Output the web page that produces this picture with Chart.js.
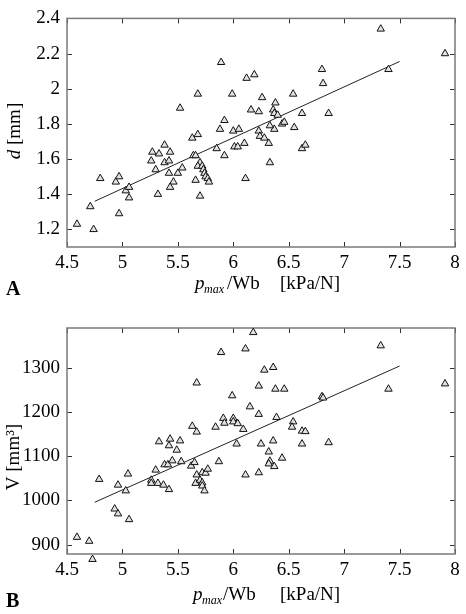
<!DOCTYPE html>
<html>
<head>
<meta charset="utf-8">
<script src="https://cdn.jsdelivr.net/npm/chart.js@4"></script>
<style>
  html, body { margin: 0; padding: 0; background: #fff; }
  #wrap { position: relative; width: 466px; height: 614px; }
  .box { position: absolute; left: 0; width: 466px; height: 307px; }
</style>
</head>
<body>
<div id="wrap">
  <div class="box" style="top:0"><canvas id="chartA" width="466" height="307"></canvas></div>
  <div class="box" style="top:307px"><canvas id="chartB" width="466" height="307"></canvas></div>
</div>
<script>
// 目盛り
const xTicks = [4.5, 5, 5.5, 6, 6.5, 7, 7.5, 8];
const dTicks = [1.2, 1.4, 1.6, 1.8, 2, 2.2, 2.4];
const vTicks = [900, 1000, 1100, 1200, 1300];

// A: pmax/Wb と d
const pmaxA = [7.33, 7.91, 7.40, 6.80, 6.81, 5.89, 6.12, 6.19, 5.68, 5.99,
  6.26, 6.54, 6.38, 5.52, 6.16, 6.23, 6.36, 6.37, 6.40, 6.62,
  6.86, 5.92, 5.88, 6.00, 6.05, 6.23, 6.37, 6.33, 6.44, 6.46,
  6.55, 6.24, 6.28, 6.32, 6.10, 6.01, 6.04, 5.85, 5.63, 5.68,
  6.62, 6.65, 5.92, 5.64, 5.66, 5.38, 5.27, 5.33, 5.43, 5.26,
  5.30, 5.38, 5.42, 5.42, 5.50, 5.54, 5.46, 5.43, 5.32, 5.70,
  5.68, 5.72, 5.73, 5.74, 5.75, 5.77, 5.78, 5.66, 5.70, 6.11,
  6.33, 4.80, 4.94, 4.97, 5.03, 5.06, 5.06, 4.97, 4.71, 4.59, 4.74];
const dValues = [2.34, 2.20, 2.11, 2.11, 2.03, 2.15, 2.06, 2.08, 1.97, 1.97,
  1.95, 1.97, 1.92, 1.89, 1.88, 1.87, 1.88, 1.86, 1.85, 1.86,
  1.86, 1.82, 1.77, 1.76, 1.77, 1.76, 1.77, 1.79, 1.80, 1.81,
  1.78, 1.73, 1.72, 1.69, 1.69, 1.67, 1.67, 1.66, 1.72, 1.74,
  1.66, 1.68, 1.62, 1.62, 1.62, 1.68, 1.64, 1.63, 1.64, 1.59,
  1.54, 1.58, 1.59, 1.52, 1.52, 1.55, 1.47, 1.44, 1.40, 1.58,
  1.56, 1.56, 1.54, 1.52, 1.50, 1.49, 1.47, 1.48, 1.39, 1.49,
  1.58, 1.49, 1.47, 1.50, 1.42, 1.44, 1.38, 1.29, 1.33, 1.23, 1.20];

// B: pmax/Wb と V
const pmaxB = [6.18, 5.89, 6.11, 7.33, 7.91, 7.40, 5.67, 6.28, 6.36, 6.23,
  6.38, 6.46, 5.99, 6.15, 6.80, 6.81, 6.23, 6.39, 5.91, 5.92,
  6.00, 6.00, 6.04, 6.09, 6.54, 6.53, 6.62, 6.65, 5.84, 5.63,
  5.67, 5.33, 5.43, 5.52, 5.42, 5.49, 6.03, 6.25, 6.36, 6.62,
  6.86, 6.32, 6.44,
  4.79, 4.96, 5.05, 5.03, 5.30, 5.26, 5.26, 5.32, 5.37, 5.42,
  5.38, 5.41, 5.45, 5.53, 5.62, 5.65, 5.67, 5.66, 5.70, 5.72,
  5.72, 5.75, 5.77, 5.72, 5.74, 5.87, 6.11, 6.23, 6.33, 6.32,
  6.37, 4.93, 4.96, 5.06, 4.59, 4.70, 4.73];
const vValues = [1380, 1335, 1343, 1350, 1264, 1252, 1266, 1295, 1301, 1259,
  1252, 1252, 1237, 1212, 1235, 1232, 1195, 1188, 1186, 1175,
  1186, 1178, 1174, 1161, 1178, 1166, 1157, 1156, 1166, 1168,
  1155, 1133, 1139, 1135, 1124, 1114, 1128, 1128, 1135, 1128,
  1131, 1110, 1096,
  1048, 1035, 1060, 1022, 1069, 1046, 1039, 1039, 1035, 1025,
  1081, 1081, 1090, 1088, 1078, 1086, 1058, 1039, 1046, 1040,
  1063, 1062, 1071, 1033, 1022, 1088, 1058, 1063, 1089, 1083,
  1077, 981, 970, 957, 917, 908, 867];

// 回帰直線
const fitX = [4.75, 7.5];
const fitD = [1.36, 2.155];
const fitV = [996, 1304];

const SERIF = '"Liberation Serif", "DejaVu Serif", serif';

function pts(xs, ys) {
  return xs.map((x, i) => ({ x: x, y: ys[i] }));
}

// 枠と内向きの目盛り線、軸タイトル
function makeDecor(cfg) {
  return {
    id: 'decor',
    beforeDatasetsDraw(chart) {
      const { ctx, chartArea: a, scales } = chart;
      ctx.save();
      ctx.strokeStyle = '#333';
      ctx.lineWidth = 1;
      ctx.beginPath();
      scales.x.ticks.forEach(t => {
        const px = Math.round(scales.x.getPixelForValue(t.value)) + 0.5;
        ctx.moveTo(px, a.bottom); ctx.lineTo(px, a.bottom - 5);
        ctx.moveTo(px, a.top); ctx.lineTo(px, a.top + 5);
      });
      scales.y.ticks.forEach(t => {
        const py = Math.round(scales.y.getPixelForValue(t.value)) + 0.5;
        ctx.moveTo(a.left, py); ctx.lineTo(a.left + 5, py);
        ctx.moveTo(a.right, py); ctx.lineTo(a.right - 5, py);
      });
      ctx.stroke();
      ctx.strokeStyle = '#7a7a7a';
      ctx.lineWidth = 1.5;
      ctx.strokeRect(a.left, a.top, a.width, a.height);
      ctx.restore();
    },
    afterDraw(chart) {
      const ctx = chart.ctx;
      ctx.save();
      ctx.fillStyle = '#000';
      ctx.textAlign = 'left';
      ctx.textBaseline = 'alphabetic';

      // x軸タイトル
      const xt = cfg.xTitle;
      ctx.font = 'italic 19px ' + SERIF;
      ctx.fillText('p', xt.p, xt.y);
      ctx.font = 'italic 12px ' + SERIF;
      ctx.fillText('max', xt.max, xt.y + 4);
      ctx.font = '19px ' + SERIF;
      ctx.fillText('/Wb', xt.wb, xt.y);
      ctx.fillText('[kPa/N]', xt.unit, xt.y);

      // パネル記号
      ctx.font = 'bold 20px ' + SERIF;
      ctx.fillText(cfg.panel, 6, cfg.panelY);

      // y軸タイトル
      const yt = cfg.yTitle;
      ctx.translate(yt.x, yt.cy);
      ctx.rotate(-Math.PI / 2);
      ctx.font = (yt.italic ? 'italic ' : '') + '19px ' + SERIF;
      const w1 = ctx.measureText(yt.sym).width;
      ctx.font = '19px ' + SERIF;
      const w2 = ctx.measureText(yt.rest).width;
      let sx = -(w1 + w2) / 2;
      ctx.font = (yt.italic ? 'italic ' : '') + '19px ' + SERIF;
      ctx.fillText(yt.sym, sx, 0);
      ctx.font = '19px ' + SERIF;
      ctx.fillText(yt.rest, sx + w1, 0);
      ctx.restore();
    }
  };
}

function makeChart(id, xs, ys, fitY, yMin, yMax, yTicks, padTop, decor) {
  return new Chart(document.getElementById(id), {
    type: 'scatter',
    data: {
      datasets: [
        {
          data: pts(xs, ys),
          pointStyle: 'triangle',
          pointRadius: 4.3,
          pointHoverRadius: 10, // 枠の下にはみ出す点も描かれるように
          backgroundColor: '#e2e2e2',
          borderColor: '#111',
          borderWidth: 1,
          clip: false
        },
        {
          data: pts(fitX, fitY),
          showLine: true,
          pointRadius: 0,
          borderColor: '#222',
          borderWidth: 1
        }
      ]
    },
    options: {
      responsive: false,
      animation: false,
      events: [],
      layout: { padding: { top: padTop, right: 6, left: 0, bottom: 0 } },
      plugins: { legend: { display: false }, tooltip: { enabled: false } },
      scales: {
        x: {
          type: 'linear', min: 4.5, max: 8,
          afterBuildTicks: s => { s.ticks = xTicks.map(v => ({ value: v })); },
          afterFit: s => { s.height = 60; },
          grid: { display: false, drawTicks: false },
          border: { display: false },
          ticks: {
            font: { family: SERIF, size: 19 }, color: '#000', padding: 5,
            maxRotation: 0, autoSkip: false, callback: v => String(v)
          }
        },
        y: {
          type: 'linear', min: yMin, max: yMax,
          afterBuildTicks: s => { s.ticks = yTicks.map(v => ({ value: v })); },
          afterFit: s => { s.width = 67; },
          grid: { display: false, drawTicks: false },
          border: { display: false },
          ticks: {
            font: { family: SERIF, size: 19 }, color: '#000', padding: 7,
            autoSkip: false, callback: v => String(v)
          }
        }
      }
    },
    plugins: [makeDecor(decor)]
  });
}

makeChart('chartA', pmaxA, dValues, fitD, 1.1, 2.4, dTicks, 13, {
  xTitle: { p: 195, max: 204, wb: 227, unit: 280, y: 288.5 },
  panel: 'A', panelY: 295,
  yTitle: { x: 19.5, cy: 131, sym: 'd', rest: ' [mm]', italic: true }
});

makeChart('chartB', pmaxB, vValues, fitV, 879, 1390, vTicks, 21, {
  xTitle: { p: 193, max: 202, wb: 223, unit: 280, y: 292.5 },
  panel: 'B', panelY: 299.5,
  yTitle: { x: 18.5, cy: 150, sym: 'V', rest: ' [mm³]', italic: false }
});
</script>
</body>
</html>
